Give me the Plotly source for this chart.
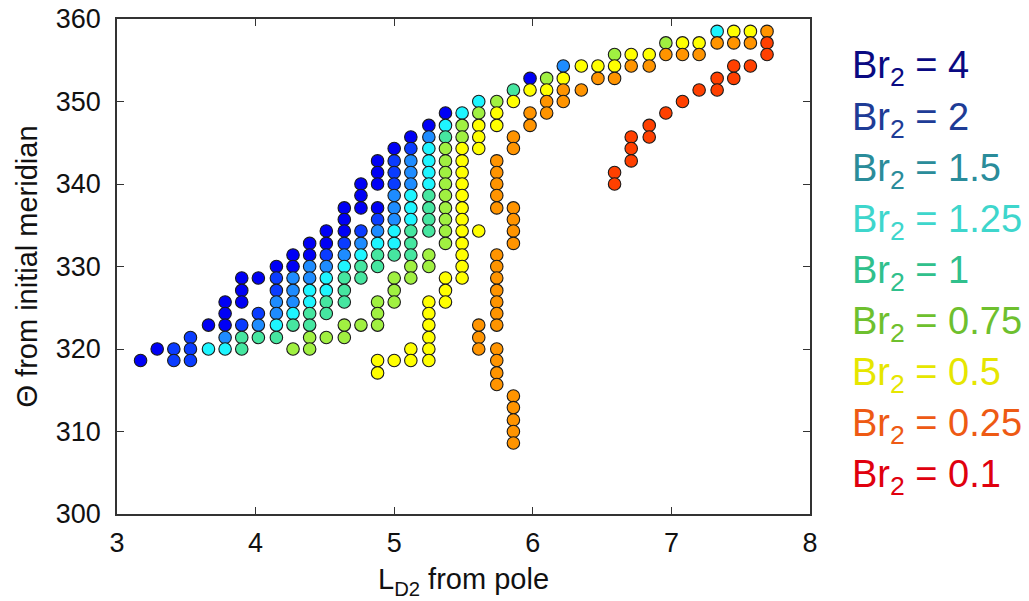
import plotly.graph_objects as go

# Br2 categories, drawn from lowest to highest value
br_labels = ["4", "2", "1.5", "1.25", "1", "0.75", "0.5", "0.25", "0.1"]
marker_colors = ["#0000F5", "#0A3CFF", "#1E8CFF", "#1EF5FF", "#46E6A0",
                 "#A0F041", "#FFFF00", "#FF9400", "#FF4000"]
text_colors = ["#0A0A82", "#1E3C96", "#2A8C9A", "#3ED6CC", "#30C08C",
               "#6EC02E", "#E6E600", "#EE5A14", "#E0000E"]

# Br2 = 4
br4_L = [3.17, 3.29, 3.66, 3.78, 3.78, 3.78, 3.90, 3.90, 3.90, 4.02, 4.15,
         4.27, 4.27, 4.39, 4.39, 4.51, 4.51, 4.64, 4.64, 4.64, 4.76, 4.76, 4.76,
         4.88, 4.88, 4.88, 4.88, 5.00, 5.12, 5.25, 5.37, 5.98]
br4_theta = [318.6, 320.0, 322.9, 325.7, 324.3, 322.9, 328.6, 327.1, 325.7, 328.6, 330.0,
             331.4, 330.0, 332.8, 331.4, 334.3, 332.8, 337.1, 335.7, 334.3, 340.0, 338.6, 337.1,
             342.8, 341.4, 340.0, 337.1, 344.3, 345.7, 347.1, 348.6, 352.8]

# Br2 = 2
br2_L = [3.41, 3.41, 3.53, 3.53, 3.53, 3.90, 4.02, 4.15, 4.15, 4.51, 4.64, 4.76,
         4.88, 5.00, 5.00, 5.00, 5.12]
br2_theta = [320.0, 318.6, 321.4, 320.0, 318.6, 322.9, 324.3, 328.6, 327.1, 331.4, 332.8, 334.3,
             335.7, 342.8, 341.4, 340.0, 344.3]

# Br2 = 1.5
br15_L = [3.78, 4.02, 4.15, 4.15, 4.27, 4.27, 4.27, 4.39, 4.39, 4.51, 4.64, 4.76, 4.88,
          5.00, 5.00, 5.00, 5.12, 5.12, 5.12, 5.25, 6.22]
br15_theta = [321.4, 322.9, 325.7, 324.3, 328.6, 327.1, 325.7, 330.0, 328.6, 330.0, 331.4, 332.8, 334.3,
              338.6, 337.1, 335.7, 342.8, 341.4, 340.0, 345.7, 354.3]

# Br2 = 1.25
br125_L = [3.66, 3.78, 4.15, 4.27, 4.39, 4.39, 4.51, 4.51, 4.64, 4.76, 4.88, 5.00, 5.00,
           5.12, 5.12, 5.12, 5.25, 5.25, 5.25, 5.25, 5.37, 5.49, 5.61, 7.33]
br125_theta = [320.0, 320.0, 322.9, 324.3, 327.1, 325.7, 328.6, 327.1, 330.0, 331.4, 332.8, 334.3, 332.8,
               338.6, 337.1, 335.7, 344.3, 342.8, 341.4, 340.0, 347.1, 348.6, 350.0, 358.5]

# Br2 = 1
br1_L = [3.90, 3.90, 4.02, 4.15, 4.27, 4.39, 4.39, 4.51, 4.51, 4.64, 4.64, 4.64, 4.76, 4.76,
         4.88, 4.88, 5.00, 5.12, 5.12, 5.12, 5.25, 5.25, 5.25, 5.25, 5.37, 5.86]
br1_theta = [321.4, 320.0, 321.4, 321.4, 322.9, 324.3, 322.9, 325.7, 324.3, 328.6, 327.1, 325.7, 330.0, 328.6,
             331.4, 330.0, 331.4, 334.3, 332.8, 331.4, 338.6, 337.1, 335.7, 334.3, 345.7, 351.4]

# Br2 = 0.75
br075_L = [4.27, 4.39, 4.39, 4.51, 4.64, 4.64, 4.76, 4.88, 4.88, 4.88, 5.00, 5.00, 5.00,
           5.12, 5.12, 5.25, 5.25, 5.37, 5.37, 5.37, 5.37, 5.37, 5.37, 5.37, 5.37, 5.37,
           5.49, 5.49, 5.61, 5.74, 6.10, 6.59, 6.96]
br075_theta = [320.0, 321.4, 320.0, 321.4, 322.9, 321.4, 322.9, 325.7, 324.3, 322.9, 328.6, 327.1, 325.7,
               330.0, 328.6, 331.4, 330.0, 344.3, 342.8, 341.4, 340.0, 338.6, 337.1, 335.7, 334.3, 332.8,
               347.1, 345.7, 348.6, 350.0, 352.8, 355.7, 357.1]

# Br2 = 0.5
br05_L = [4.88, 4.88, 5.00, 5.12, 5.12, 5.25, 5.25, 5.25, 5.25, 5.25, 5.25, 5.37, 5.37, 5.37,
          5.49, 5.49, 5.49, 5.49, 5.49, 5.49, 5.49, 5.49, 5.49, 5.49, 5.49, 5.49,
          5.61, 5.61, 5.61, 5.61, 5.74, 5.74, 5.86, 5.98, 6.10, 6.22, 6.35, 6.47, 6.59,
          6.71, 6.84, 7.08, 7.20, 7.45, 7.57]
br05_theta = [318.6, 317.1, 318.6, 320.0, 318.6, 325.7, 324.3, 322.9, 321.4, 320.0, 318.6, 328.6, 327.1, 325.7,
              344.3, 342.8, 341.4, 340.0, 338.6, 337.1, 335.7, 334.3, 332.8, 331.4, 330.0, 328.6,
              347.1, 345.7, 344.3, 334.3, 348.6, 347.1, 350.0, 351.4, 351.4, 352.8, 354.3, 354.3, 354.3,
              355.7, 355.7, 357.1, 357.1, 358.5, 358.5]

# Br2 = 0.25
br025_L = [5.61, 5.61, 5.61,
           5.74, 5.74, 5.74, 5.74, 5.74, 5.74, 5.74, 5.74, 5.74, 5.74, 5.74, 5.74, 5.74, 5.74, 5.74, 5.74,
           5.86, 5.86, 5.86, 5.86, 5.86, 5.86, 5.86, 5.86, 5.86, 5.86, 5.86,
           5.98, 5.98, 6.10, 6.10, 6.22, 6.22, 6.35, 6.47, 6.59, 6.71, 6.84, 6.96, 7.08, 7.20,
           7.33, 7.45, 7.57, 7.69]
br025_theta = [322.9, 321.4, 320.0,
               342.8, 341.4, 340.0, 338.6, 337.1, 331.4, 330.0, 328.6, 327.1, 325.7, 324.3, 322.9,
               320.0, 318.6, 317.1, 315.7,
               345.7, 344.3, 337.1, 335.7, 334.3, 332.8, 314.3, 312.9, 311.4, 310.0, 308.6,
               348.6, 347.1, 350.0, 348.6, 351.4, 350.0, 351.4, 352.8, 352.8, 354.3, 354.3, 355.7, 355.7, 355.7,
               357.1, 357.1, 357.1, 358.5]

# Br2 = 0.1
br01_L = [6.59, 6.59, 6.71, 6.71, 6.71, 6.84, 6.84, 6.96, 7.08, 7.20, 7.33, 7.33, 7.45, 7.45, 7.57, 7.69, 7.69]
br01_theta = [341.4, 340.0, 345.7, 344.3, 342.8, 347.1, 345.7, 348.6, 350.0, 351.4, 352.8, 351.4, 354.3, 352.8,
              354.3, 357.1, 355.7]

series_L = [br4_L, br2_L, br15_L, br125_L, br1_L, br075_L, br05_L, br025_L, br01_L]
series_theta = [br4_theta, br2_theta, br15_theta, br125_theta, br1_theta, br075_theta,
                br05_theta, br025_theta, br01_theta]

x_ticks = [3, 4, 5, 6, 7, 8]
y_ticks = [300, 310, 320, 330, 340, 350, 360]

FONT = "Liberation Sans, Arial, Helvetica, sans-serif"

fig = go.Figure()
for lab, col, xs, ys in zip(br_labels, marker_colors, series_L, series_theta):
    fig.add_trace(go.Scatter(
        x=xs, y=ys, mode="markers", name="Br2 = " + lab,
        marker=dict(size=12.5, color=col, line=dict(color="#1a1a1a", width=1.1)),
        showlegend=False,
    ))

# Coloured legend text to the right of the axes
legend_top = 0.9
legend_step = 0.1032
for k, (lab, tc) in enumerate(zip(br_labels, text_colors)):
    fig.add_annotation(
        x=1.057, y=legend_top - k * legend_step, xref="paper", yref="paper",
        xanchor="left", yanchor="middle", showarrow=False,
        text="Br<sub>2</sub> = " + lab,
        font=dict(family=FONT, size=38, color=tc),
    )

axis_common = dict(
    showline=True, linecolor="#333333", linewidth=1.5, mirror="ticks",
    ticks="inside", ticklen=7, tickwidth=1.3, tickcolor="#333333",
    showgrid=False, zeroline=False, automargin=False,
    tickfont=dict(family=FONT, size=27, color="#111111"),
)

fig.update_xaxes(range=[3, 8], tickvals=x_ticks, ticklabelstandoff=4,
                 title=dict(text="L<sub>D2</sub> from pole", standoff=12,
                            font=dict(family=FONT, size=29, color="#111111")),
                 **axis_common)
fig.update_yaxes(range=[300, 360], tickvals=y_ticks, ticklabelstandoff=9,
                 title=dict(text="Θ from initial meridian", standoff=10,
                            font=dict(family=FONT, size=29, color="#111111")),
                 **axis_common)

fig.update_layout(
    width=1029, height=601,
    margin=dict(l=117, r=219, t=19, b=87),
    paper_bgcolor="white", plot_bgcolor="white",
)

fig.write_html("out.html")
